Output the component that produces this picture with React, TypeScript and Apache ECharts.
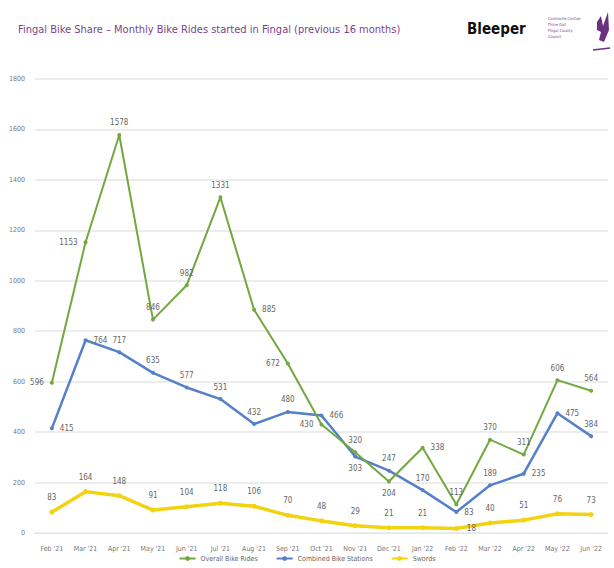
import React, { useEffect, useRef } from "react";
import * as echarts from "echarts";

const months = ["Feb '21", "Mar '21", "Apr '21", "May '21", "Jun '21", "Jul '21", "Aug '21", "Sep '21", "Oct '21", "Nov '21", "Dec '21", "Jan '22", "Feb '22", "Mar '22", "Apr '22", "May '22", "Jun '22"];
const overallRides = [596, 1153, 1578, 846, 982, 1331, 885, 672, 430, 320, 204, 338, 113, 370, 311, 606, 564];
const combinedStations = [415, 764, 717, 635, 577, 531, 432, 480, 466, 303, 247, 170, 83, 189, 235, 475, 384];
const swords = [83, 164, 148, 91, 104, 118, 106, 70, 48, 29, 21, 21, 18, 40, 51, 76, 73];
const seriesNames = ["Overall Bike Rides", "Combined Bike Stations", "Swords"];

const greenPos = ["left", "left", "top", "top", "top", "top", "right", "left", "left", "top", "bottom", "right", "top", "top", "top", "top", "top"];
const bluePos = ["right", "right", "top", "top", "top", "top", "top", "top", "right", "bottom", "top", "top", "right", "top", "right", "right", "top"];
const yellowPos = ["top", "top", "top", "top", "top", "top", "top", "top", "top", "top", "top", "top", "right", "top", "top", "top", "top"];

const FONT = "'DejaVu Sans Condensed', 'Liberation Sans Narrow', 'Liberation Sans', sans-serif";

export default function App() {
  const ref = useRef<HTMLDivElement>(null);
  useEffect(() => {
    document.body.style.margin = "0";
    const chart = echarts.init(ref.current!, undefined, { renderer: "svg" });
    const lbl = { show: true, fontSize: 8, color: "#666", fontFamily: FONT, distance: 6 };
    chart.setOption({
      animation: false,
      backgroundColor: "#fff",
      textStyle: { fontFamily: FONT },
      graphic: [
        { type: "text", left: 18, top: 24, style: { text: "Fingal Bike Share \u2013 Monthly Bike Rides started in Fingal (previous 16 months)", fill: "#7b3f8c", font: "11px " + FONT } },
        { type: "text", left: 467, top: 21, style: { text: "Bleeper", fill: "#111", font: "bold 15px " + FONT } },
        { type: "text", left: 548, top: 15, style: { text: "Comhairle Contae\nFhine Gall\nFingal County\nCouncil", fill: "#7b3f8c", font: "4px " + FONT, lineHeight: 6 } },
        { type: "polygon", shape: { points: [[597, 22], [601, 16], [603, 26], [608, 12], [609, 30], [604, 42], [599, 40], [601, 32], [597, 30]] }, style: { fill: "#6b2f80" } },
        { type: "line", shape: { x1: 593, y1: 50, x2: 610, y2: 48 }, style: { stroke: "#6b2f80", lineWidth: 1.5 } }
      ],
      legend: {
        bottom: 1,
        left: "center",
        itemWidth: 16,
        itemHeight: 6,
        itemGap: 18,
        textStyle: { fontSize: 7, color: "#666", fontFamily: FONT },
        data: seriesNames
      },
      grid: { left: 35, right: 6, top: 79, bottom: 35, containLabel: false },
      xAxis: {
        type: "category",
        data: months,
        boundaryGap: true,
        axisLine: { show: true, lineStyle: { color: "#e6e6e6" } },
        axisTick: { show: false },
        axisLabel: { fontSize: 7, color: "#777", fontFamily: FONT, margin: 12, interval: 0 }
      },
      yAxis: {
        type: "value",
        min: 0,
        max: 1800,
        interval: 200,
        axisLine: { show: false },
        axisTick: { show: false },
        axisLabel: { fontSize: 7, color: "#777", fontFamily: FONT, margin: 10, formatter: (v: number) => String(v) },
        splitLine: { lineStyle: { color: "#e6e6e6", width: 1.5 } }
      },
      series: [
        {
          name: seriesNames[0],
          type: "line",
          data: overallRides.map((v, i) => ({ value: v, label: { position: greenPos[i] } })),
          itemStyle: { color: "#72a83f" },
          lineStyle: { width: 2, color: "#72a83f" },
          symbol: "circle",
          symbolSize: 4,
          label: lbl,
          z: 3
        },
        {
          name: seriesNames[1],
          type: "line",
          data: combinedStations.map((v, i) => ({ value: v, label: { position: bluePos[i] } })),
          itemStyle: { color: "#5580c8" },
          lineStyle: { width: 2.5, color: "#5580c8" },
          symbol: "circle",
          symbolSize: 4,
          label: lbl,
          z: 2
        },
        {
          name: seriesNames[2],
          type: "line",
          data: swords.map((v, i) => ({ value: v, label: { position: yellowPos[i] } })),
          itemStyle: { color: "#f2d30f" },
          lineStyle: { width: 3.5, color: "#f2d30f" },
          symbol: "circle",
          symbolSize: 5,
          label: { ...lbl, distance: 8 },
          z: 1
        }
      ]
    });
    return () => chart.dispose();
  }, []);
  return <div ref={ref} style={{ width: 614, height: 568 }} />;
}
